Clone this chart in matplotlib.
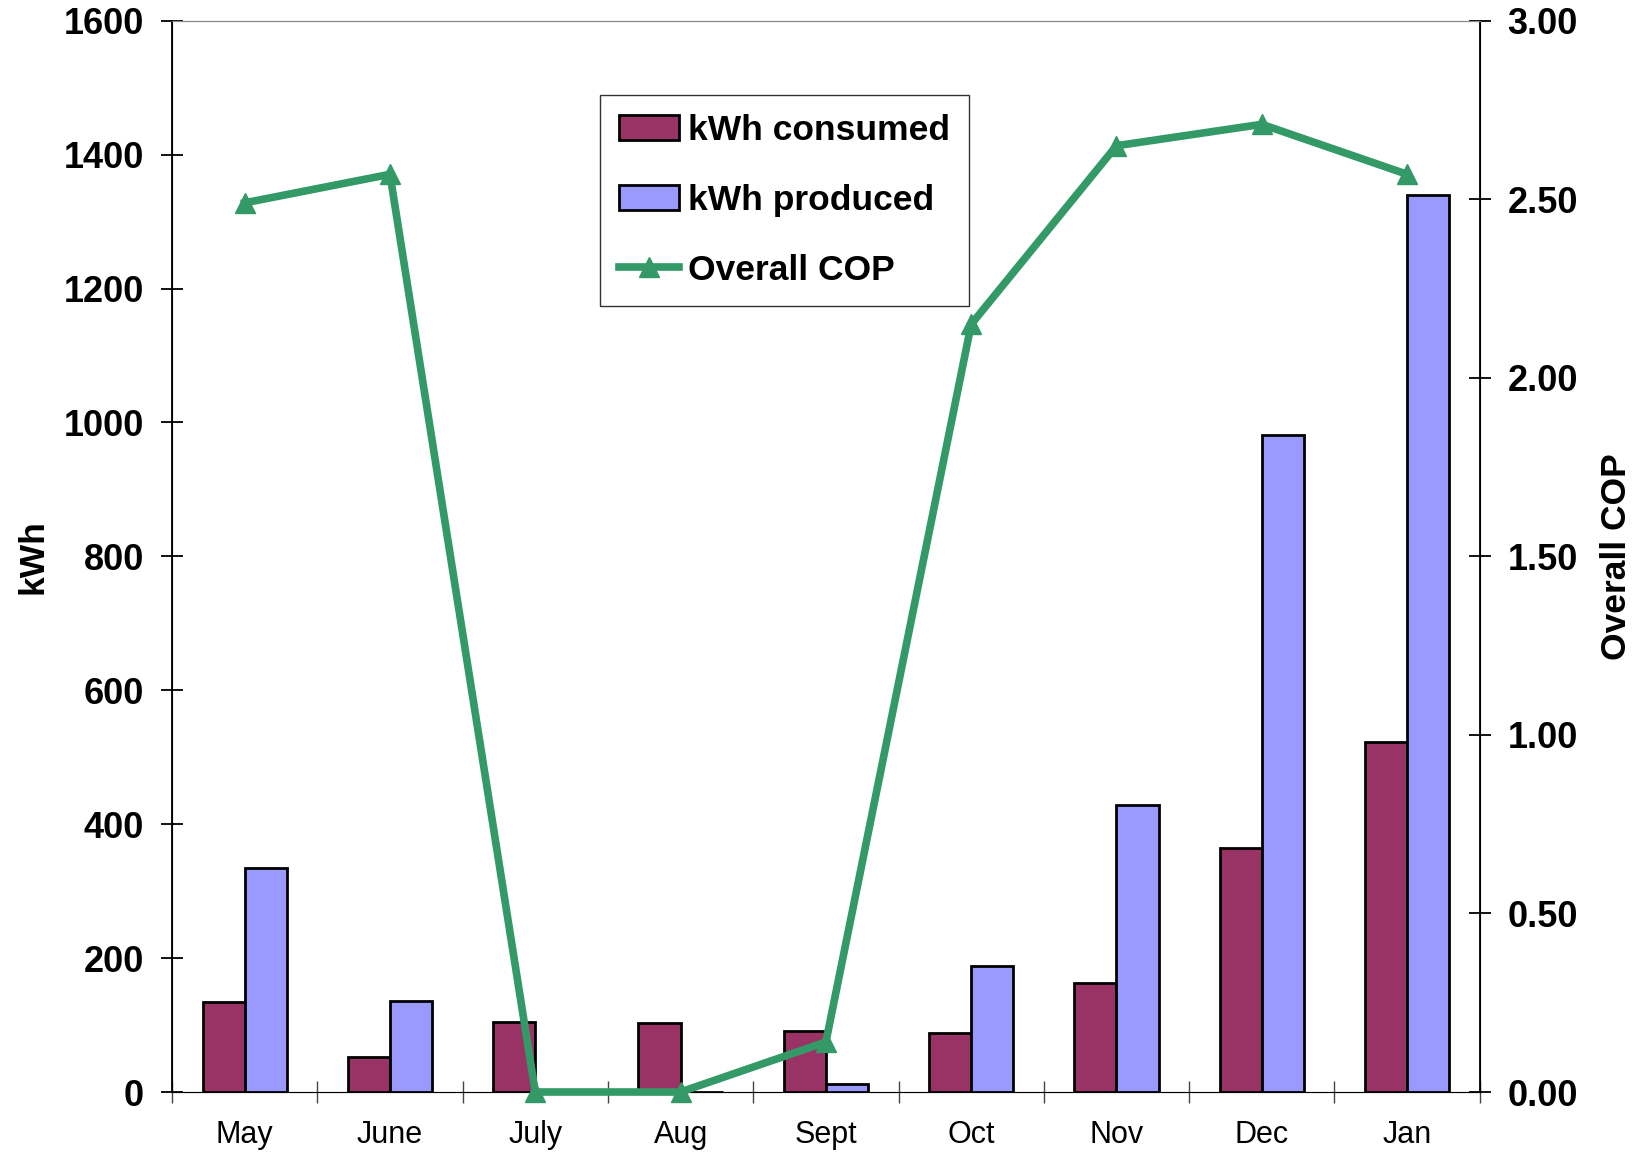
import numpy as np
import matplotlib
matplotlib.use("Agg")
import matplotlib.pyplot as plt

plt.rcParams["font.family"] = ["Liberation Sans", "DejaVu Sans"]

months = ["May", "June", "July", "Aug", "Sept", "Oct", "Nov", "Dec", "Jan"]
kwh_consumed = [135, 53, 105, 103, 91, 88, 163, 364, 523]
kwh_produced = [335, 136, 0, 0, 12, 188, 429, 981, 1340]
overall_cop = [2.49, 2.57, 0.0, 0.0, 0.14, 2.15, 2.65, 2.71, 2.57]

C_CONS = "#993366"
C_PROD = "#9999FF"
C_COP = "#339966"


def main() -> None:
    fig = plt.figure(figsize=(16.46, 11.53), dpi=100)
    ax = fig.add_axes([0.1045, 0.0529, 0.7945, 0.9291])
    x = np.arange(len(months))
    w = 0.29

    b1 = ax.bar(x - w / 2, kwh_consumed, w, color=C_CONS, edgecolor="black",
                linewidth=2, label="kWh consumed", zorder=2)
    b2 = ax.bar(x + w / 2, kwh_produced, w, color=C_PROD, edgecolor="black",
                linewidth=2, label="kWh produced", zorder=2)

    ax.set_xlim(-0.5, len(months) - 0.5)
    ax.set_ylim(0, 1600)
    ax.set_yticks(range(0, 1601, 200))
    ax.set_xticks(np.arange(-0.5, len(months), 1.0))
    ax.set_xticklabels([])
    ax.set_xticks(x, minor=True)
    ax.set_xticklabels(months, minor=True, fontsize=22)
    ax.tick_params(axis="x", which="minor", length=0, pad=20)
    ax.tick_params(axis="x", which="major", direction="inout", length=16,
                   width=1, color="#444444")
    ax.tick_params(axis="y", direction="inout", length=16, width=1.3, pad=12,
                   labelsize=26)
    for lab in ax.get_yticklabels():
        lab.set_fontweight("bold")
    ax.set_ylabel("kWh", fontsize=25.5, fontweight="bold", labelpad=10)

    ax.spines["top"].set_color("#888888")
    ax.spines["bottom"].set_color("#555555")
    ax.spines["left"].set_linewidth(1.3)

    ax2 = ax.twinx()
    ln, = ax2.plot(x, overall_cop, color=C_COP, linewidth=5.5, marker="^",
                   markersize=14, label="Overall COP", zorder=3,
                   clip_on=False)
    ax2.set_ylim(0, 3)
    ax2.set_yticks(np.arange(0, 3.01, 0.5))
    ax2.set_yticklabels([f"{v:.2f}" for v in np.arange(0, 3.01, 0.5)],
                        fontsize=26, fontweight="bold")
    ax2.tick_params(axis="y", direction="inout", length=16, width=1.3, pad=12)
    ax2.set_ylabel("Overall COP", fontsize=25.5, fontweight="bold", labelpad=16)
    ax2.spines["right"].set_linewidth(1.3)
    ax2.spines["top"].set_color("#888888")

    leg = ax2.legend([b1, b2, ln], ["kWh consumed", "kWh produced", "Overall COP"],
                     loc="upper left", bbox_to_anchor=(0.327, 0.931),
                     borderaxespad=0, fancybox=False, frameon=True,
                     prop={"weight": "bold", "size": 25.5}, labelspacing=1.04,
                     handlelength=1.7, handletextpad=0.24, borderpad=0.55)
    leg.get_frame().set_edgecolor("black")
    leg.get_frame().set_linewidth(1)

    fig.savefig("out.png", dpi=100)


if __name__ == "__main__":
    main()
